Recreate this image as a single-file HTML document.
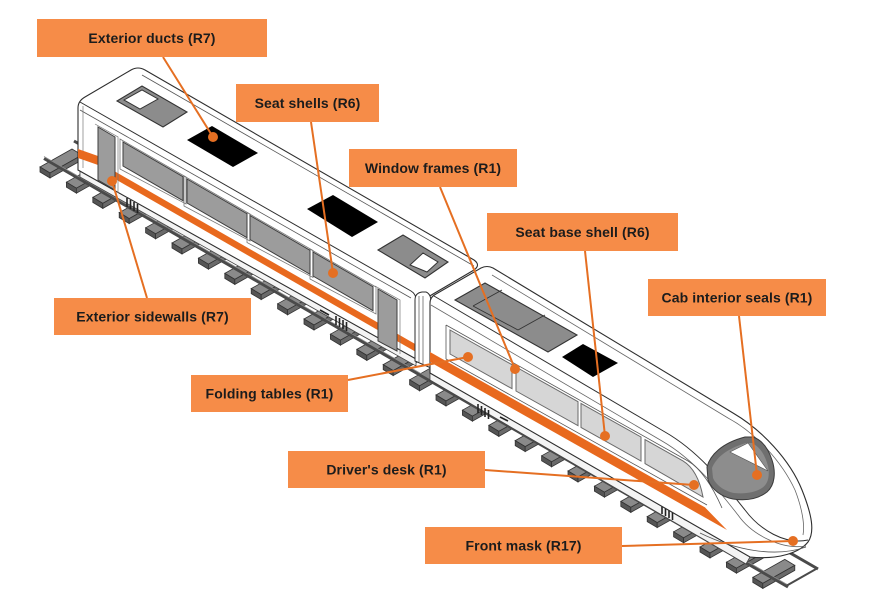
<!DOCTYPE html>
<html>
<head>
<meta charset="utf-8">
<style>
  html,body{margin:0;padding:0;background:#fff;}
  svg{display:block;}
  .lbl{font-family:"Liberation Sans",Arial,sans-serif;font-weight:bold;font-size:14px;fill:#1c1c1c;letter-spacing:0.1px;}
</style>
</head>
<body>
<svg width="888" height="612" viewBox="0 0 888 612" xmlns="http://www.w3.org/2000/svg">
<defs>
  <g id="sl">
    <path d="M0,-5 L32,-23 L42,-17 L10,1 Z" fill="#8a8a8a" stroke="#333" stroke-width="0.8"/>
    <path d="M0,-5 L10,1 L10,6 L0,0 Z" fill="#555" stroke="#333" stroke-width="0.8"/>
    <path d="M10,1 L42,-17 L42,-12 L10,6 Z" fill="#6a6a6a" stroke="#333" stroke-width="0.8"/>
  </g>
</defs>
<rect width="888" height="612" fill="#fff"/>

<!-- sleepers -->
<g>
  <use href="#sl" x="40" y="172"/><use href="#sl" x="66.4" y="187.2"/><use href="#sl" x="92.8" y="202.4"/>
  <use href="#sl" x="119.2" y="217.6"/><use href="#sl" x="145.6" y="232.8"/><use href="#sl" x="172" y="248"/>
  <use href="#sl" x="198.4" y="263.2"/><use href="#sl" x="224.8" y="278.4"/><use href="#sl" x="251.2" y="293.6"/>
  <use href="#sl" x="277.6" y="308.8"/><use href="#sl" x="304" y="324"/><use href="#sl" x="330.4" y="339.2"/>
  <use href="#sl" x="356.8" y="354.4"/><use href="#sl" x="383.2" y="369.6"/><use href="#sl" x="409.6" y="384.8"/>
  <use href="#sl" x="436" y="400"/><use href="#sl" x="462.4" y="415.2"/><use href="#sl" x="488.8" y="430.4"/>
  <use href="#sl" x="515.2" y="445.6"/><use href="#sl" x="541.6" y="460.8"/><use href="#sl" x="568" y="476"/>
  <use href="#sl" x="594.4" y="491.2"/><use href="#sl" x="620.8" y="506.4"/><use href="#sl" x="647.2" y="521.6"/>
  <use href="#sl" x="673.6" y="536.8"/><use href="#sl" x="700" y="552"/><use href="#sl" x="726.4" y="567.2"/>
  <use href="#sl" x="752.8" y="582.4"/>
</g>
<!-- rails -->
<line x1="74" y1="141" x2="818" y2="569" stroke="#4a4a4a" stroke-width="3"/>
<line x1="44" y1="158.5" x2="788" y2="587" stroke="#4a4a4a" stroke-width="3"/>
<line x1="44" y1="156.5" x2="788" y2="585" stroke="#8a8a8a" stroke-width="0.8"/>
<path d="M786,586 L816,569" stroke="#4a4a4a" stroke-width="2"/>

<!-- rear car underframe -->
<path d="M80,170 L416,359 L416,366 L80,177 Z" fill="#f4f4f4" stroke="#444" stroke-width="0.8"/>
<path d="M127,198 l0,9 M130.5,200 l0,9 M134,202 l0,9 M137.5,204 l0,9 M160,214 l8,4" stroke="#222" stroke-width="1.6"/>
<path d="M336,316 l0,9 M339.5,318 l0,9 M343,320 l0,9 M346.5,322 l0,9 M320,310 l9,5" stroke="#222" stroke-width="1.6"/>

<!-- rear car body -->
<path d="M78,170 L78,108 Q78,101 85,97 L131,70 Q138,66 145,70 L474,260 Q481,265 474,270 L428,297 L428,362 L416,359 L78,170 Z" fill="#fff" stroke="#2e2e2e" stroke-width="1.1"/>
<path d="M80,102 L411,291 Q416,294 416,300 L416,358" fill="none" stroke="#2e2e2e" stroke-width="1"/>
<path d="M80,110 L411,298" fill="none" stroke="#555" stroke-width="0.8"/>
<path d="M142,75 L474,266" fill="none" stroke="#555" stroke-width="0.8"/>
<path d="M83,106 L83,168" fill="none" stroke="#777" stroke-width="0.7"/>

<!-- rear stripe -->
<path d="M78,149 L98,156 L98,165 L78,158 Z" fill="#e8691e"/>
<path d="M115,171.5 L416,344.5 L416,352 L115,179 Z" fill="#e8691e"/>

<!-- rear windows -->
<g stroke="#777" stroke-width="0.8" fill="none">
  <path d="M120,139 L186,177 L186,204 L120,169 Z"/>
  <path d="M184,176 L250,214 L250,241 L184,206 Z"/>
  <path d="M247,212.5 L313,250.5 L313,277.5 L247,242.5 Z"/>
  <path d="M310,249 L376,287 L376,314 L310,279 Z"/>
</g>
<g fill="#9c9c9c" stroke="#3e3e3e" stroke-width="1">
  <path d="M123,142 L183,176.7 L183,200.7 L123,166 Z"/>
  <path d="M187,179 L247,213.7 L247,237.7 L187,203 Z"/>
  <path d="M250,215.5 L310,250.3 L310,274.3 L250,239.5 Z"/>
  <path d="M313,252 L373,286.7 L373,310.7 L313,276 Z"/>
  <path d="M98,127 L115,137 L115,190 L98,180 Z"/>
  <path d="M378,289 L397,300 L397,351 L378,341 Z"/>
</g>
<path d="M95,124 L118,137 L118,193 M375,286 L400,300 L400,354" fill="none" stroke="#777" stroke-width="0.7"/>

<!-- rear roof features -->
<path d="M117,101 L142,86 L187,112 L163,127 Z" fill="#8c8c8c" stroke="#333" stroke-width="1.1"/>
<path d="M124,100 L142,90 L158,99 L140,109 Z" fill="#fff" stroke="#333" stroke-width="1"/>
<path d="M187,140 L212,126 L258,153 L233,167 Z" fill="#000"/>
<path d="M307,209 L333,195 L378,222 L352,237 Z" fill="#000"/>
<path d="M378,250 L403,235 L448,262 L425,278 Z" fill="#8c8c8c" stroke="#333" stroke-width="1.1"/>
<path d="M410,265 L423,253 L438,262 L427,272 Z" fill="#fff" stroke="#333" stroke-width="1"/>

<!-- gangway -->
<path d="M415,300 Q415,293 422,292 L426,292 Q431,294 431,302 L431,368 L415,361 Z" fill="#fff" stroke="#2e2e2e" stroke-width="1"/>
<path d="M419,296 L419,362 M423,296 L423,364" stroke="#666" stroke-width="0.8"/>

<!-- front car underframe -->
<path d="M430,373 L750,557 L746,564 L430,380 Z" fill="#f4f4f4" stroke="#444" stroke-width="0.8"/>
<path d="M478,404 l0,9 M481.5,406 l0,9 M485,408 l0,9 M488.5,410 l0,9 M500,417 l8,4" stroke="#222" stroke-width="1.6"/>
<path d="M662,505 l0,9 M665.5,507 l0,9 M669,509 l0,9 M672.5,511 l0,9 M684,519 l9,4" stroke="#222" stroke-width="1.6"/>

<!-- front car body -->
<path d="M430,373 L430,303 Q430,297 436,294 L481,268 Q487,265 493,268 L733,413 C762,430 790,460 802,490 C812,515 815,532 808,542 C800,552 780,560 750,557 Z" fill="#fff" stroke="#2e2e2e" stroke-width="1.1"/>
<path d="M434,296 L665,432 C700,452 725,485 745,510 C760,530 785,545 808,540" fill="none" stroke="#2e2e2e" stroke-width="1"/>
<path d="M431,305 L662,441 C695,460 720,492 738,515 C752,535 782,550 806,546" fill="none" stroke="#666" stroke-width="0.8"/>
<path d="M492,275 L728,418 C756,433 782,462 795,490 C802,508 805,525 803,535" fill="none" stroke="#666" stroke-width="0.8"/>
<path d="M446,325 L688,461 C700,468 712,485 722,508" fill="none" stroke="#555" stroke-width="0.8"/>
<path d="M446,359 L707,505" fill="none" stroke="#555" stroke-width="0.8"/>
<path d="M446,325 L446,359" fill="none" stroke="#555" stroke-width="0.8"/>
<path d="M700,533 C735,550 775,558 806,547" fill="none" stroke="#555" stroke-width="0.8"/>

<!-- front stripe -->
<path d="M430,352 L705,507.4 L727,530 L430,362 Z" fill="#e8691e"/>

<!-- front windows -->
<g fill="#d6d6d6" stroke="#6a6a6a" stroke-width="1">
  <path d="M450,330 L512,364.7 L512,388.7 L450,354 Z"/>
  <path d="M516,367 L578,401.7 L578,425.7 L516,391 Z"/>
  <path d="M581,403.4 L641,437 L641,461 L581,427.4 Z"/>
  <path d="M645,439.6 L683,460.9 Q698,470 703,497 L645,463.6 Z"/>
</g>

<!-- front roof features -->
<path d="M455,300 L485,283 L577,335 L548,352 Z" fill="#8c8c8c" stroke="#333" stroke-width="1.1"/>
<path d="M473,306 L502,290 M518,330 L545,315 M473,306 L518,330" stroke="#333" stroke-width="0.9" fill="none"/>
<path d="M562,357 L583,344 L618,363 L593,377 Z" fill="#000"/>

<!-- cab window -->
<path d="M707,467 C710,455 722,443 745,437 L753,437 C762,440 768,448 772,460 C776,472 775,485 767,492 C758,499 746,501 733,499 C722,497 712,490 708,480 Z" fill="#6f6f6f" stroke="#3a3a3a" stroke-width="1"/>
<path d="M712,468 C716,458 726,449 746,443 L752,443 C760,447 765,455 768,466 C770,476 768,484 762,488 C754,493 744,494 734,493 C724,491 716,485 713,478 Z" fill="#8d8d8d"/>
<path d="M730,452 L748,443 L768,471 Z" fill="#fff" stroke="#555" stroke-width="0.6"/>

<!-- connectors -->
<g stroke="#e56f22" stroke-width="2" fill="none">
  <line x1="163" y1="57" x2="213" y2="137"/>
  <line x1="311" y1="122" x2="333" y2="273"/>
  <line x1="440" y1="187" x2="515" y2="369"/>
  <line x1="585" y1="251" x2="605" y2="436"/>
  <line x1="739" y1="316" x2="757" y2="475"/>
  <line x1="147" y1="298" x2="112" y2="181"/>
  <line x1="348" y1="380" x2="468" y2="357"/>
  <line x1="485" y1="470" x2="694" y2="485"/>
  <line x1="622" y1="546" x2="793" y2="541"/>
</g>
<g fill="#e56f22">
  <circle cx="213" cy="137" r="5"/>
  <circle cx="333" cy="273" r="5"/>
  <circle cx="515" cy="369" r="5"/>
  <circle cx="605" cy="436" r="5"/>
  <circle cx="757" cy="475" r="5"/>
  <circle cx="112" cy="181" r="5"/>
  <circle cx="468" cy="357" r="5"/>
  <circle cx="694" cy="485" r="5"/>
  <circle cx="793" cy="541" r="5"/>
</g>

<!-- labels -->
<g fill="#f68c48">
  <rect x="37" y="19" width="230" height="38"/>
  <rect x="236" y="84" width="143" height="38"/>
  <rect x="349" y="149" width="168" height="38"/>
  <rect x="487" y="213" width="191" height="38"/>
  <rect x="648" y="279" width="178" height="37"/>
  <rect x="54" y="298" width="197" height="37"/>
  <rect x="191" y="375" width="157" height="37"/>
  <rect x="288" y="451" width="197" height="37"/>
  <rect x="425" y="527" width="197" height="37"/>
</g>
<g class="lbl" text-anchor="middle">
  <text x="152" y="43">Exterior ducts (R7)</text>
  <text x="307.5" y="108">Seat shells (R6)</text>
  <text x="433" y="173">Window frames (R1)</text>
  <text x="582.5" y="237">Seat base shell (R6)</text>
  <text x="737" y="302.5">Cab interior seals (R1)</text>
  <text x="152.5" y="321.5">Exterior sidewalls (R7)</text>
  <text x="269.5" y="398.5">Folding tables (R1)</text>
  <text x="386.5" y="474.5">Driver's desk (R1)</text>
  <text x="523.5" y="550.5">Front mask (R17)</text>
</g>
</svg>
</body>
</html>
